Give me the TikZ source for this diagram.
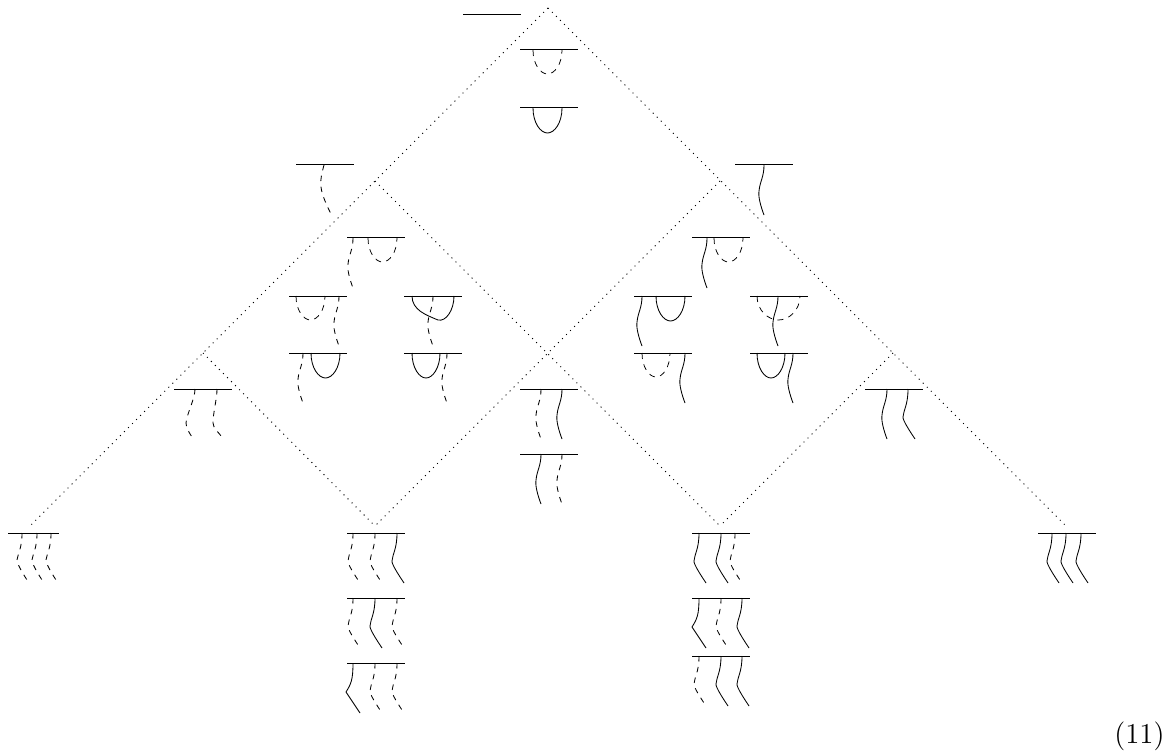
\documentclass[tikz,border=0pt]{standalone}
\usepackage{tikz}
\usetikzlibrary{arrows.meta,positioning}

\newcommand{\topbar}[2]{\draw[barline] (#1,#2) -- ++(57.5,0);}
% x, y, end shift, style
\newcommand{\strand}[4]{\draw[#4] (#1,#2) .. controls +(0,12) and +(1,-10) .. ++(-5,26)
  .. controls +(-1,6) and +(-3,-8) .. ++(#3+5,24);}
\newcommand{\kinkstrand}[4]{\draw[#4] (#1,#2) .. controls +(0,16) and +(0.5,-7) .. ++(-5,28)
  .. controls +(-0.4,3) and +(-6,-9) .. ++(#3+5,22);}
\newcommand{\shortstrand}[4]{\draw[#4] (#1,#2) .. controls +(0,15) and +(1,-7) .. ++(-5,27)
  .. controls +(-0.4,3) and +(-5,-8) .. ++(#3+5,20);}
\newcommand{\sharpstrand}[4]{\draw[#4] (#1,#2) .. controls +(0,17) and +(5,-8) .. ++(-7,29)
  -- ++(#3+7,21);}
% x, y, span, depth, style
\newcommand{\cupline}[5]{\draw[#5] (#1,#2) .. controls +(0,#4*0.6) and +(-#3*0.24,0) .. ++(#3/2,#4)
  .. controls +(#3*0.24,0) and +(0,#4*0.6) .. ++(#3/2,-#4);}

\begin{document}
\begin{tikzpicture}[x=1pt,y=-1pt,
  barline/.style={line width=1pt},
  dotline/.style={line width=1pt, dash pattern=on 1pt off 4.7pt},
  solidleg/.style={line width=0.85pt},
  dashleg/.style={line width=0.85pt, dash pattern=on 5.5pt off 5.5pt},
  dashcup/.style={line width=0.75pt, dash pattern=on 6pt off 5.5pt}]

\useasboundingbox (0,0) rectangle (1169,751);

% Dotted lattice
\draw[dotline] (548,8) -- (30,526);
\draw[dotline] (548,8) -- (1066,526);
\draw[dotline] (375,181) -- (720,526);
\draw[dotline] (720,181) -- (375,526);
\draw[dotline] (203,353) -- (375,526);
\draw[dotline] (893,353) -- (720,526);

% Top vertex
\topbar{463}{15}
\topbar{520}{50}
\cupline{533}{50}{29}{24}{dashcup}
\topbar{520}{108}
\cupline{533}{108}{29}{25}{solidleg}

% Second row
\topbar{296}{165}
\draw[dashleg] (324,165) .. controls +(-2,8) and +(-1,-8) .. ++(-3,22)
  .. controls +(1,9) and +(-4,-8) .. ++(11,29);
\topbar{735}{165}
\strand{764}{165}{0}{solidleg}

% Left square
\topbar{347}{238}
\strand{353}{238}{0}{dashleg}
\cupline{368}{238}{29}{24}{dashcup}
\topbar{289}{296}
\cupline{296}{296}{29}{24}{dashcup}
\strand{339}{296}{0}{dashleg}
\topbar{404}{296}
\draw[solidleg] (412,296) .. controls +(0,14) and +(-12,-5) .. ++(26,24)
  .. controls +(8,2) and +(0,14) .. ++(16,-24);
\strand{433}{296}{0}{dashleg}
\topbar{289}{353}
\strand{303}{353}{0}{dashleg}
\cupline{311}{353}{29}{25}{solidleg}
\topbar{404}{353}
\cupline{412}{353}{28}{25}{solidleg}
\strand{447}{353}{0}{dashleg}

% Right square
\topbar{692}{238}
\strand{707}{238}{0}{solidleg}
\cupline{714}{238}{29}{24}{dashcup}
\topbar{634}{296}
\strand{642}{296}{0}{solidleg}
\cupline{656}{296}{29}{25}{solidleg}
\topbar{750}{296}
\cupline{757}{296}{43}{24}{dashcup}
\strand{778}{296}{0}{solidleg}
\topbar{634}{353}
\cupline{642}{353}{28}{24}{dashcup}
\strand{685}{353}{0}{solidleg}
\topbar{750}{353}
\cupline{757}{353}{28}{25}{solidleg}
\strand{793}{353}{0}{solidleg}

% Middle diamonds
\topbar{174}{389}
\draw[dashleg] (195,389) .. controls +(0,10) and +(1,-10) .. ++(-9,34)
  .. controls +(0,5) and +(-2,-3) .. ++(6,14);
\draw[dashleg] (217,389) .. controls +(0,10) and +(0,-10) .. ++(-4,34)
  .. controls +(0,5) and +(-3,-4) .. ++(9,14);
\topbar{520}{389}
\strand{541}{389}{0}{dashleg}
\strand{562}{389}{0}{solidleg}
\topbar{520}{454}
\strand{541}{454}{0}{solidleg}
\strand{562}{454}{0}{dashleg}
\topbar{865}{389}
\strand{887}{389}{0}{solidleg}
\kinkstrand{908}{389}{7}{solidleg}

% Bottom left
\draw[barline] (8,533) -- ++(51,0);
\shortstrand{22}{533}{5}{dashleg}
\shortstrand{37}{533}{5}{dashleg}
\shortstrand{51}{533}{5}{dashleg}

% Bottom centre left
\topbar{347}{533}
\kinkstrand{353}{533}{7}{dashleg}
\kinkstrand{375}{533}{7}{dashleg}
\kinkstrand{397}{533}{7}{solidleg}
\topbar{347}{598}
\kinkstrand{353}{598}{7}{dashleg}
\kinkstrand{375}{598}{7}{solidleg}
\kinkstrand{397}{598}{7}{dashleg}
\topbar{347}{663}
\sharpstrand{353}{663}{7}{solidleg}
\kinkstrand{375}{663}{7}{dashleg}
\kinkstrand{397}{663}{7}{dashleg}

% Bottom centre right
\topbar{692}{533}
\kinkstrand{699}{533}{7}{solidleg}
\kinkstrand{721}{533}{7}{solidleg}
\kinkstrand{735}{533}{7}{dashleg}
\topbar{692}{598}
\sharpstrand{699}{598}{7}{solidleg}
\kinkstrand{721}{598}{7}{dashleg}
\kinkstrand{742}{598}{7}{solidleg}
\topbar{692}{656}
\kinkstrand{699}{656}{7}{dashleg}
\kinkstrand{721}{656}{7}{solidleg}
\kinkstrand{742}{656}{7}{solidleg}

% Bottom right
\topbar{1038}{533}
\kinkstrand{1052}{533}{7}{solidleg}
\kinkstrand{1066}{533}{7}{solidleg}
\kinkstrand{1081}{533}{7}{solidleg}

\node[anchor=base east, inner sep=0pt, scale=2.4, font=\fontsize{12}{14}\selectfont] (eqno) at (1165,743) {(11)};

\end{tikzpicture}
\end{document}
